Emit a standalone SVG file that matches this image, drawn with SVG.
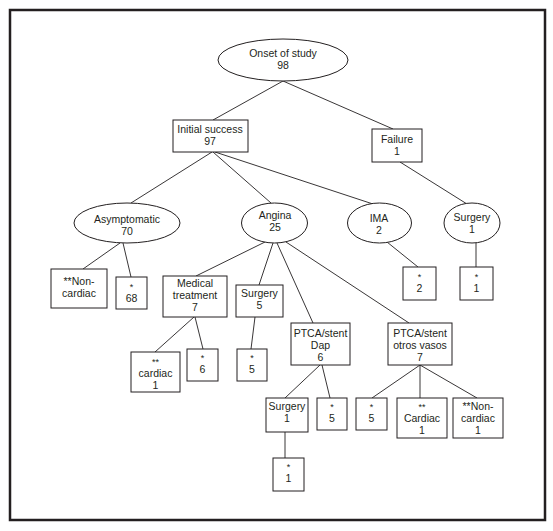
<svg xmlns="http://www.w3.org/2000/svg" width="553" height="531" viewBox="0 0 553 531">
<style>
.n{fill:#fff;stroke:#231f20;stroke-width:1}
.t{font-family:"Liberation Sans",Arial,sans-serif;font-size:10.5px;fill:#231f20;text-anchor:middle}
.s{font-size:9px}
#connectors line{stroke:#231f20;stroke-width:0.9}
</style>
<rect x="0" y="0" width="553" height="531" fill="#fff"/>
<rect x="10" y="10" width="535" height="510" fill="none" stroke="#231f20" stroke-width="2.5"/>
<g id="connectors">
<line x1="283" y1="81" x2="213" y2="120"/>
<line x1="283" y1="81" x2="393" y2="129"/>
<line x1="212" y1="152" x2="131" y2="203"/>
<line x1="213" y1="152" x2="271" y2="203"/>
<line x1="215" y1="152" x2="376" y2="205"/>
<line x1="400" y1="162" x2="467" y2="204"/>
<line x1="120" y1="243" x2="83" y2="269"/>
<line x1="123" y1="243" x2="131" y2="277"/>
<line x1="265" y1="242" x2="196" y2="276"/>
<line x1="273" y1="243" x2="259" y2="285"/>
<line x1="277" y1="243" x2="313" y2="323"/>
<line x1="286" y1="242" x2="409" y2="323"/>
<line x1="387" y1="242" x2="418" y2="267"/>
<line x1="476" y1="243" x2="476" y2="267"/>
<line x1="194" y1="317" x2="155" y2="352"/>
<line x1="195" y1="317" x2="203" y2="349"/>
<line x1="255" y1="317" x2="251" y2="349"/>
<line x1="320" y1="365" x2="285" y2="398"/>
<line x1="322" y1="365" x2="330" y2="398"/>
<line x1="420" y1="365" x2="372" y2="398"/>
<line x1="420" y1="365" x2="420" y2="398"/>
<line x1="420" y1="365" x2="477" y2="398"/>
<line x1="285" y1="432" x2="285" y2="458"/>
</g>
<g id="onset"><ellipse class="n" cx="283" cy="60" rx="65" ry="21"/><text class="t" x="283" y="57">Onset of study</text><text class="t" x="283" y="69">98</text></g>
<g id="initial"><rect class="n" x="173" y="120" width="75" height="32"/><text class="t" x="210" y="133">Initial success</text><text class="t" x="210" y="145">97</text></g>
<g id="failure"><rect class="n" x="372" y="129" width="50" height="33"/><text class="t" x="397" y="143">Failure</text><text class="t" x="397" y="155">1</text></g>
<g id="asymptomatic"><ellipse class="n" cx="127" cy="223" rx="53" ry="20"/><text class="t" x="127" y="223">Asymptomatic</text><text class="t" x="127" y="235">70</text></g>
<g id="angina"><ellipse class="n" cx="274.5" cy="223" rx="33" ry="20"/><text class="t" x="275" y="219">Angina</text><text class="t" x="275" y="231">25</text></g>
<g id="ima"><ellipse class="n" cx="379.5" cy="223" rx="32" ry="20"/><text class="t" x="379" y="222">IMA</text><text class="t" x="379" y="234">2</text></g>
<g id="surgery-f"><ellipse class="n" cx="472" cy="223" rx="28" ry="20"/><text class="t" x="472" y="221">Surgery</text><text class="t" x="472" y="233">1</text></g>
<g id="noncardiac-a"><rect class="n" x="51" y="269" width="56" height="39"/><text class="t" x="79" y="285">**Non-</text><text class="t" x="79" y="297">cardiac</text></g>
<g id="star-68"><rect class="n" x="116" y="277" width="31" height="32"/><text class="t s" x="131.5" y="290">*</text><text class="t" x="131.5" y="302">68</text></g>
<g id="medical"><rect class="n" x="163" y="276" width="64" height="41"/><text class="t" x="195" y="287">Medical</text><text class="t" x="195" y="299">treatment</text><text class="t" x="195" y="311">7</text></g>
<g id="surgery-5"><rect class="n" x="236" y="285" width="47" height="32"/><text class="t" x="259.5" y="297">Surgery</text><text class="t" x="259.5" y="309">5</text></g>
<g id="ptca-dap"><rect class="n" x="291" y="323" width="59" height="42"/><text class="t" x="320.5" y="337">PTCA/stent</text><text class="t" x="320.5" y="349">Dap</text><text class="t" x="320.5" y="361">6</text></g>
<g id="ptca-otros"><rect class="n" x="388" y="323" width="64" height="42"/><text class="t" x="420" y="337">PTCA/stent</text><text class="t" x="420" y="349">otros vasos</text><text class="t" x="420" y="361">7</text></g>
<g id="star-2"><rect class="n" x="403" y="267" width="33" height="33"/><text class="t s" x="419.5" y="280">*</text><text class="t" x="419.5" y="292">2</text></g>
<g id="star-1f"><rect class="n" x="460" y="267" width="33" height="33"/><text class="t s" x="476.5" y="280">*</text><text class="t" x="476.5" y="292">1</text></g>
<g id="cardiac-m"><rect class="n" x="131" y="352" width="49" height="40"/><text class="t s" x="155.5" y="365">**</text><text class="t" x="155.5" y="377">cardiac</text><text class="t" x="155.5" y="389">1</text></g>
<g id="star-6"><rect class="n" x="187" y="349" width="31" height="32"/><text class="t s" x="202.5" y="361">*</text><text class="t" x="202.5" y="373">6</text></g>
<g id="star-5s"><rect class="n" x="237" y="349" width="30" height="32"/><text class="t s" x="252" y="361">*</text><text class="t" x="252" y="373">5</text></g>
<g id="surgery-1"><rect class="n" x="266" y="398" width="42" height="34"/><text class="t" x="287" y="410">Surgery</text><text class="t" x="287" y="422">1</text></g>
<g id="star-5d"><rect class="n" x="317" y="398" width="30" height="32"/><text class="t s" x="332" y="410">*</text><text class="t" x="332" y="422">5</text></g>
<g id="star-5o"><rect class="n" x="356" y="398" width="31" height="32"/><text class="t s" x="371.5" y="410">*</text><text class="t" x="371.5" y="422">5</text></g>
<g id="cardiac-o"><rect class="n" x="397" y="398" width="50" height="40"/><text class="t s" x="422" y="410">**</text><text class="t" x="422" y="422">Cardiac</text><text class="t" x="422" y="434">1</text></g>
<g id="noncardiac-o"><rect class="n" x="453" y="398" width="50" height="40"/><text class="t" x="478" y="410">**Non-</text><text class="t" x="478" y="422">cardiac</text><text class="t" x="478" y="434">1</text></g>
<g id="star-1s"><rect class="n" x="273" y="458" width="31" height="33"/><text class="t s" x="288.5" y="470">*</text><text class="t" x="288.5" y="482">1</text></g>
</svg>
